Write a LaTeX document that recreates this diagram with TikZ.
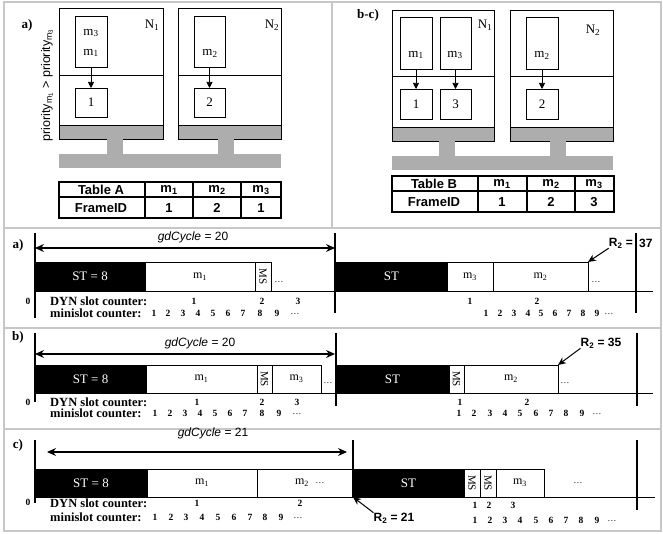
\documentclass[tikz,border=0pt]{standalone}
\usepackage{fontspec}
\setmainfont{Liberation Serif}
\setsansfont{Liberation Sans}
\usetikzlibrary{arrows.meta}
\newcommand\bx[7]{\node[#6,anchor=north west,inner sep=0pt,outer sep=0pt,minimum width={(#4-#2)*1pt},minimum height={(#5-#3)*1pt}] (#1) at (#2,#3) {#7};}
\tikzset{
 frame/.style={draw=black!22,line width=1.2pt},
 ecu/.style={draw,line width=0.7pt},
 buf/.style={draw,line width=0.7pt},
 grayf/.style={fill=black!32,draw=black,line width=0.7pt},
 busf/.style={fill=black!32,draw=none},
 arr/.style={-{Triangle[length=6pt,width=6pt]},line width=0.7pt},
 tbl/.style={line width=1.3pt},
 tt/.style={font=\sffamily\bfseries\fontsize{13}{14}\selectfont,inner sep=0pt},
 lbl/.style={font=\fontsize{13}{15}\selectfont,inner sep=0pt},
 st/.style={fill=black,draw=black,text=white,font=\fontsize{13}{15}\selectfont,line width=0.5pt},
 slot/.style={draw,fill=white,line width=0.6pt,font=\fontsize{12}{14}\selectfont},
 mstxt/.style={rotate=-90,font=\fontsize{11}{12}\selectfont,inner sep=0pt},
 vl/.style={line width=1.3pt},
 base/.style={line width=0.8pt},
 num/.style={font=\bfseries\fontsize{9.5}{11}\selectfont,inner sep=0pt},
 cnt/.style={font=\bfseries\fontsize{12.5}{14}\selectfont,inner sep=0pt,anchor=west},
 gd/.style={font=\sffamily\fontsize{12}{14}\selectfont,inner sep=0pt},
 rr/.style={font=\sffamily\bfseries\fontsize{12}{14}\selectfont,inner sep=0pt},
 darr/.style={{Stealth[length=9pt,width=8pt]}-{Stealth[length=9pt,width=8pt]},line width=1.1pt},
 rarr/.style={-{Stealth[length=8pt,width=7pt]},line width=1pt},
 pan/.style={font=\bfseries\fontsize{13}{15}\selectfont,inner sep=0pt},
 dots/.style={font=\fontsize{9}{10}\selectfont,inner sep=0pt},
}
\newcommand\dd{.\kern0.8pt.\kern0.8pt.}
\begin{document}
\begin{tikzpicture}[x=1pt,y=-1pt]
\useasboundingbox (0,0) rectangle (663,534);
% frames
\draw[frame] (4,2) rectangle (661,531);
\draw[frame] (4,228) -- (661,228);
\draw[frame] (4,328) -- (661,328);
\draw[frame] (4,429) -- (661,429);
\draw[frame] (332,2) -- (332,228);

%================ top-left panel
\node[pan] (pa) at (27,25) {a)};
\node[rotate=90,font=\sffamily\fontsize{12.5}{14}\selectfont,inner sep=0pt] (prio) at (47,85) {priority\textsubscript{m\textsubscript{1}} > priority\textsubscript{m\textsubscript{3}}};
\bx{an1}{59}{8}{163}{139}{ecu}{}
\draw[line width=0.7pt] (59,75) -- (163,75);
\bx{an1g}{59}{125}{163}{139}{grayf}{}
\node[lbl] (an1l) at (152,25) {N\textsubscript{1}};
\bx{abufA}{75}{16}{107}{67}{buf}{}
\node[lbl] (am3) at (91,33) {m\textsubscript{3}};
\node[lbl] (am1) at (91,53) {m\textsubscript{1}};
\bx{aslot1}{75}{88}{107}{117}{buf,font=\fontsize{13}{15}\selectfont}{1}
\draw[arr] (abufA) -- (aslot1);
\bx{an2}{178}{8}{281}{139}{ecu}{}
\draw[line width=0.7pt] (178,75) -- (281,75);
\bx{an2g}{178}{125}{281}{139}{grayf}{}
\node[lbl] (an2l) at (272,25) {N\textsubscript{2}};
\bx{abufB}{194}{16}{225}{67}{buf}{}
\node[lbl] (am2) at (210,53) {m\textsubscript{2}};
\bx{aslot2}{194}{88}{225}{117}{buf,font=\fontsize{13}{15}\selectfont}{2}
\draw[arr] (abufB) -- (aslot2);
\bx{astub1}{107}{139}{123}{154}{busf}{}
\bx{astub2}{218}{139}{234}{154}{busf}{}
\bx{abus}{59}{154}{281}{168}{busf}{}
% table A
\draw[tbl] (59,182) rectangle (281,218);
\draw[tbl] (59,197) -- (281,197);
\draw[tbl] (145,182) -- (145,218) (193,182) -- (193,218) (241,182) -- (241,218);
\node[tt] (ta1) at (101,190) {Table A};
\node[tt] (ta2) at (169,190) {m\textsubscript{1}};
\node[tt] (ta3) at (217,190) {m\textsubscript{2}};
\node[tt] (ta4) at (261,190) {m\textsubscript{3}};
\node[tt] (ta5) at (101,208) {FrameID};
\node[tt] (ta6) at (169,208) {1};
\node[tt] (ta7) at (217,208) {2};
\node[tt] (ta8) at (261,208) {1};

%================ top-right panel
\node[pan] (pb) at (368,15) {b-c)};
\bx{bn1}{392}{10}{494}{141}{ecu}{}
\draw[line width=0.7pt] (392,76) -- (494,76);
\bx{bn1g}{392}{127}{494}{141}{grayf}{}
\node[lbl] (bn1l) at (485,25) {N\textsubscript{1}};
\bx{bbufA}{400}{17}{432}{69}{buf}{}
\node[lbl] (bm1) at (416,55) {m\textsubscript{1}};
\bx{bbufC}{440}{17}{471}{69}{buf}{}
\node[lbl] (bm3) at (455,55) {m\textsubscript{3}};
\bx{bslot1}{400}{89}{432}{119}{buf,font=\fontsize{13}{15}\selectfont}{1}
\bx{bslot3}{440}{89}{471}{119}{buf,font=\fontsize{13}{15}\selectfont}{3}
\draw[arr] (bbufA) -- (bslot1);
\draw[arr] (bbufC) -- (bslot3);
\bx{bn2}{510}{10}{613}{141}{ecu}{}
\draw[line width=0.7pt] (510,76) -- (613,76);
\bx{bn2g}{510}{127}{613}{141}{grayf}{}
\node[lbl] (bn2l) at (593,30) {N\textsubscript{2}};
\bx{bbufB}{526}{17}{558}{69}{buf}{}
\node[lbl] (bm2) at (542,55) {m\textsubscript{2}};
\bx{bslot2}{526}{89}{558}{119}{buf,font=\fontsize{13}{15}\selectfont}{2}
\draw[arr] (bbufB) -- (bslot2);
\bx{bstub1}{439}{141}{455}{156}{busf}{}
\bx{bstub2}{550}{141}{566}{156}{busf}{}
\bx{bbus}{392}{156}{613}{170}{busf}{}
% table B
\draw[tbl] (392,176) rectangle (614,212);
\draw[tbl] (392,191) -- (614,191);
\draw[tbl] (478,176) -- (478,212) (527,176) -- (527,212) (575,176) -- (575,212);
\node[tt] (tb1) at (434,184) {Table B};
\node[tt] (tb2) at (502,184) {m\textsubscript{1}};
\node[tt] (tb3) at (551,184) {m\textsubscript{2}};
\node[tt] (tb4) at (594,184) {m\textsubscript{3}};
\node[tt] (tb5) at (434,202) {FrameID};
\node[tt] (tb6) at (502,202) {1};
\node[tt] (tb7) at (551,202) {2};
\node[tt] (tb8) at (594,202) {3};

%================ timeline a)
\node[pan] (ra) at (18,245) {a)};
\draw[base] (35,291) -- (653,291);
\bx{ast}{35}{262}{145}{291}{st}{ST = 8}
\bx{am1s}{145}{262}{255}{291}{slot}{m\textsubscript{1}}
\bx{ams}{255}{262}{271}{291}{slot}{}
\node[mstxt] (amst) at (ams) {MS};
\node[dots] (ad1) at (279,282) {\dd};
\bx{ast2}{336}{262}{447}{291}{st}{ST}
\bx{am3s}{447}{262}{493}{291}{slot}{m\textsubscript{3}}
\bx{am2s}{493}{262}{588}{291}{slot}{m\textsubscript{2}}
\node[dots] (ad2) at (596,282) {\dd};
\coordinate (aL1) at (35,233); \coordinate (aL2) at (35,318);
\coordinate (aM1) at (335,233); \coordinate (aM2) at (335,313);
\coordinate (aR1) at (636,233); \coordinate (aR2) at (636,313);
\draw[vl] (aL1) -- (aL2); \draw[vl] (aM1) -- (aM2); \draw[vl] (aR1) -- (aR2);
\coordinate (agL) at (35,248); \coordinate (agR) at (335,248);
\draw[darr] (agL) -- (agR);
\node[gd] (agd) at (193,237) {\textit{gdCycle} = 20};
\node[rr,anchor=east] (ar2) at (633,243) {R\textsubscript{2} =};
\node[rr,anchor=west] (ar37) at (639,243) {37};
\draw[rarr] (ar2.south west) -- (am2s.north east);
\node[num] (a0) at (28,301) {0};
\node[cnt] (adyn) at (50,301) {DYN slot counter:};
\node[cnt] (amin) at (50,313) {minislot counter:};
\node[num] (ady1) at (194,301) {1};
\node[num] (ady2) at (262,301) {2};
\node[num] (ady3) at (298,301) {3};
\node[num] (ady4) at (470,301) {1};
\node[num] (ady5) at (537,301) {2};
\foreach \x [count=\i] in {154,168,183,198,213,228,243,260,277} \node[num] (ama\i) at (\x,313) {\i};
\node[dots] (amad) at (295,314) {\dd};
\foreach \x [count=\i] in {486,500,514,528,541,555,569,583,597} \node[num] (amb\i) at (\x,313) {\i};
\node[dots] (ambd) at (609,314) {\dd};

%================ timeline b)
\node[pan] (rb) at (18,337) {b)};
\draw[base] (35,393) -- (653,393);
\bx{bst}{35}{365}{146}{393}{st}{ST = 8}
\bx{bm1s}{146}{365}{257}{393}{slot}{m\textsubscript{1}}
\bx{bms}{257}{365}{272}{393}{slot}{}
\node[mstxt] (bmst) at (bms) {MS};
\bx{bm3s}{272}{365}{321}{393}{slot}{m\textsubscript{3}}
\node[dots] (bd1) at (328,383) {\dd};
\bx{bst2}{336}{365}{449}{393}{st}{ST}
\bx{bms2}{449}{365}{464}{393}{slot}{}
\node[mstxt] (bmst2) at (bms2) {MS};
\bx{bm2s}{464}{365}{558}{393}{slot}{m\textsubscript{2}}
\node[dots] (bd2) at (565,383) {\dd};
\coordinate (bL1) at (35,333); \coordinate (bL2) at (35,402);
\coordinate (bM1) at (336,333); \coordinate (bM2) at (336,406);
\coordinate (bR1) at (637,333); \coordinate (bR2) at (637,406);
\draw[vl] (bL1) -- (bL2); \draw[vl] (bM1) -- (bM2); \draw[vl] (bR1) -- (bR2);
\coordinate (bgL) at (35,354); \coordinate (bgR) at (335,354);
\draw[darr] (bgL) -- (bgR);
\node[gd] (bgd) at (200,343) {\textit{gdCycle} = 20};
\node[rr] (br2) at (601,343) {R\textsubscript{2} = 35};
\draw[rarr] (br2.south west) -- (bm2s.north east);
\node[num] (b0) at (28,402) {0};
\node[cnt] (bdyn) at (50,402) {DYN slot counter:};
\node[cnt] (bmin) at (50,413) {minislot counter:};
\node[num] (bdy1) at (197,402) {1};
\node[num] (bdy2) at (262,402) {2};
\node[num] (bdy3) at (297,402) {3};
\node[num] (bdy4) at (460,402) {1};
\node[num] (bdy5) at (527,402) {2};
\foreach \x [count=\i] in {155,170,185,200,215,230,245,262,279} \node[num] (bma\i) at (\x,413) {\i};
\node[dots] (bmad) at (297,414) {\dd};
\foreach \x [count=\i] in {459,474,490,505,520,536,551,566,582} \node[num] (bmb\i) at (\x,413) {\i};
\node[dots] (bmbd) at (597,414) {\dd};

%================ timeline c)
\node[pan] (rc) at (18,445) {c)};
\draw[base] (35,497) -- (655,497);
\bx{cst}{35}{469}{147}{497}{st}{ST = 8}
\bx{cm1s}{147}{469}{257}{497}{slot}{m\textsubscript{1}}
\bx{cm2s}{257}{469}{353}{497}{slot}{}
\node[font=\fontsize{12}{14}\selectfont,inner sep=0pt] (cm2t) at (302,483) {m\textsubscript{2}};
\node[dots] (cd0) at (320,483) {\dd};
\bx{cst2}{353}{469}{464}{497}{st}{ST}
\bx{cms1}{464}{469}{480}{497}{slot}{}
\node[mstxt] (cmst1) at (cms1) {MS};
\bx{cms2}{480}{469}{496}{497}{slot}{}
\node[mstxt] (cmst2) at (cms2) {MS};
\bx{cm3s}{496}{469}{544}{497}{slot}{m\textsubscript{3}}
\node[dots] (cd1) at (578,483) {\dd};
\coordinate (cL1) at (35,440); \coordinate (cL2) at (35,503);
\coordinate (cM1) at (353,440); \coordinate (cM2) at (353,497);
\coordinate (cR1) at (637,440); \coordinate (cR2) at (637,510);
\draw[vl] (cL1) -- (cL2); \draw[vl] (cM1) -- (cM2); \draw[vl] (cR1) -- (cR2);
\coordinate (cgL) at (47,452); \coordinate (cgR) at (347,452);
\draw[darr] (cgL) -- (cgR);
\node[gd] (cgd) at (213,433) {\textit{gdCycle} = 21};
\node[rr] (cr2) at (394,518) {R\textsubscript{2} = 21};
\draw[rarr] (cr2.north west) -- (cst2.south west);
\node[num] (c0) at (28,502) {0};
\node[cnt] (cdyn) at (50,503) {DYN slot counter:};
\node[cnt] (cmin) at (50,517) {minislot counter:};
\node[num] (cdy1) at (197,503) {1};
\node[num] (cdy2) at (300,503) {2};
\node[num] (cdy3) at (475,505) {1};
\node[num] (cdy4) at (489,505) {2};
\node[num] (cdy5) at (513,505) {3};
\foreach \x [count=\i] in {155,171,186,202,218,234,250,265,281} \node[num] (cma\i) at (\x,517) {\i};
\node[dots] (cmad) at (298,518) {\dd};
\foreach \x [count=\i] in {475,490,505,520,536,551,566,581,597} \node[num] (cmb\i) at (\x,520) {\i};
\node[dots] (cmbd) at (612,521) {\dd};
\end{tikzpicture}
\end{document}
